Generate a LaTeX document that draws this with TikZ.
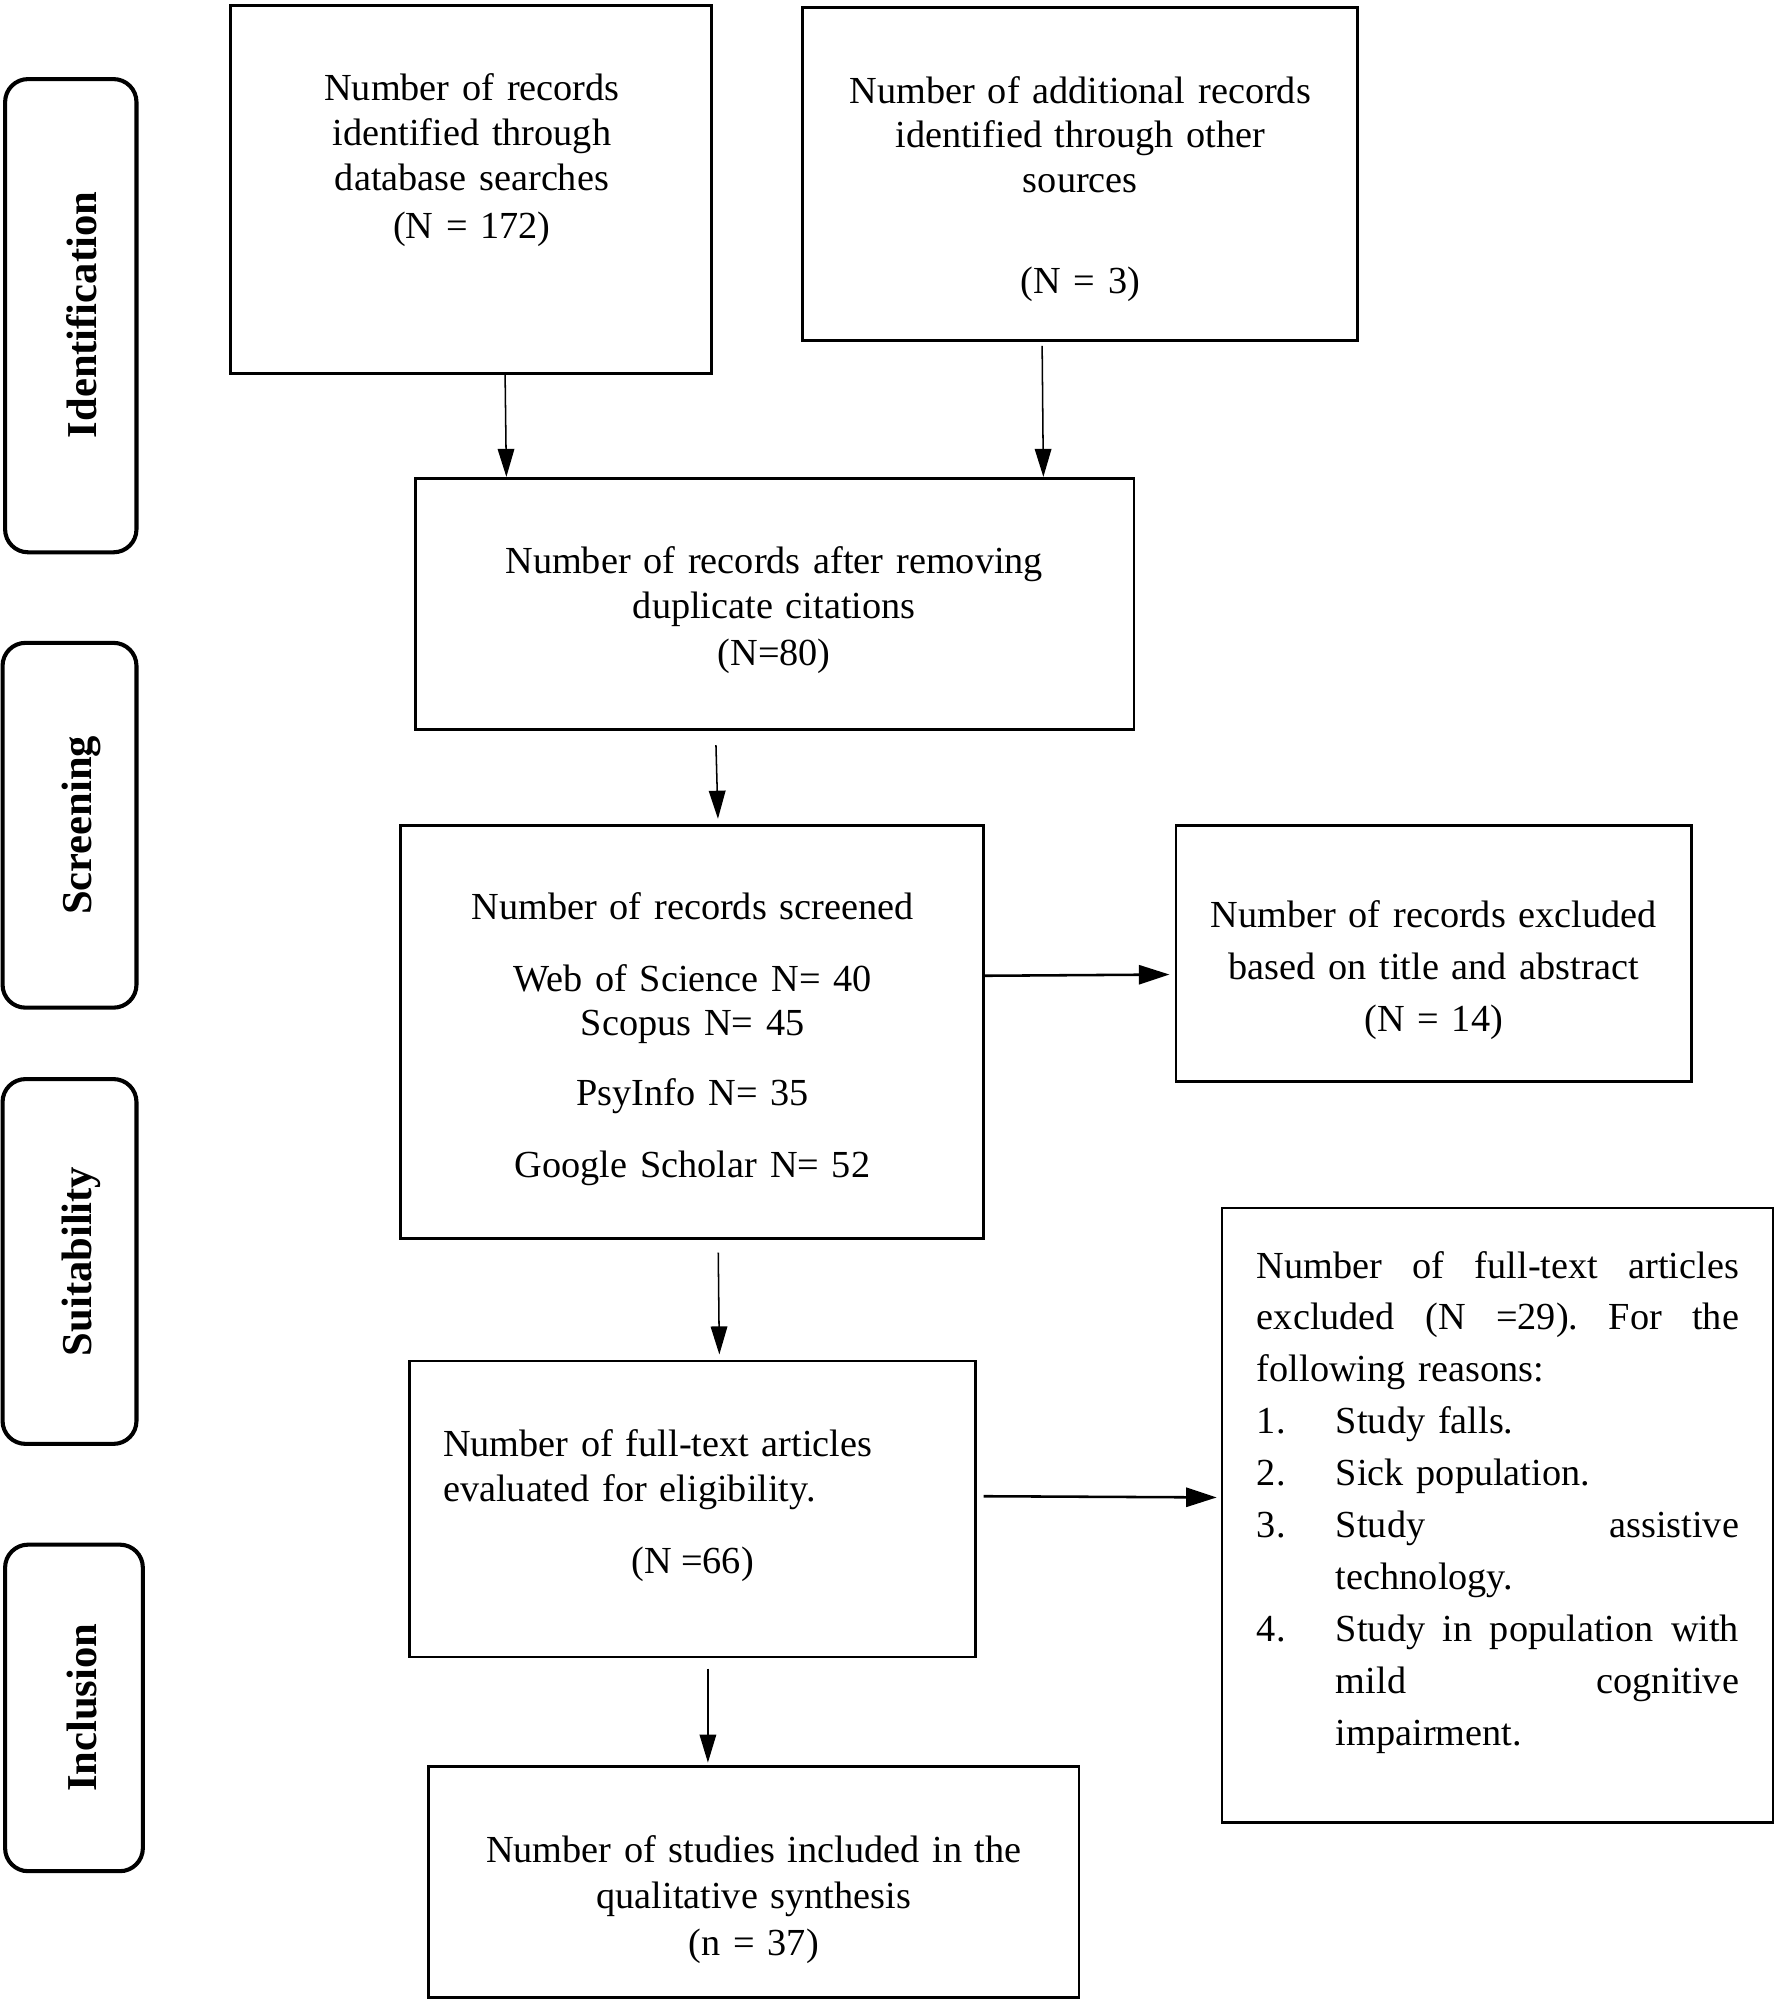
\documentclass[tikz,border=0pt]{standalone}
\usepackage{fontspec}
\setmainfont{Liberation Serif}
\usetikzlibrary{arrows.meta}
\begin{document}
\begin{tikzpicture}[x=0.5pt,y=-0.5pt,
  box/.style={draw, line width=1.1pt, inner sep=0pt},
  phase/.style={draw, line width=1.6pt, rounded corners=9pt, inner sep=0pt},
  lab/.style={font=\fontsize{16.7}{18}\selectfont\bfseries, inner sep=0pt, rotate=90},
  txt/.style={font=\fontsize{15}{17.5}\selectfont, inner sep=0pt, align=center},
  arr/.style={line width=0.6pt, -{Triangle[length=11pt,width=6.5pt]}},
  harr/.style={line width=1pt, -{Triangle[length=12pt,width=7.5pt]}}]
\useasboundingbox (0,0) rectangle (1392,1568);

% phase boxes
\node[phase, minimum width=51.5pt, minimum height=185.5pt] (P1) at (55.5,247.5) {};
\node[phase, minimum width=52.5pt, minimum height=143pt] (P2) at (54.5,647) {};
\node[phase, minimum width=52.5pt, minimum height=143pt] (P3) at (54.5,989) {};
\node[phase, minimum width=54pt, minimum height=128pt] (P4) at (58,1339) {};
\node[lab] (L1) at (64,247) {Identification};
\node[lab] (L2) at (64,647) {Screening};
\node[lab] (L3) at (64,989) {Suitability};
\node[lab] (L4) at (64,1339) {Inclusion};

% boxes
\node[box, minimum width=188.5pt, minimum height=144.5pt] (A) at (369.5,148.5) {};
\node[box, minimum width=217.5pt, minimum height=130.5pt] (B) at (846.5,136.5) {};
\node[box, minimum width=281.5pt, minimum height=98.5pt] (C) at (607.5,473.5) {};
\node[box, minimum width=228.5pt, minimum height=162pt] (D) at (542.5,809) {};
\node[box, minimum width=202pt, minimum height=100.5pt] (E) at (1124,747.5) {};
\node[box, minimum width=222pt, minimum height=116pt] (F) at (543,1183) {};
\node[box, minimum width=216pt, minimum height=241pt] (G) at (1174,1188) {};
\node[box, minimum width=255pt, minimum height=90.5pt] (H) at (591,1475.5) {};

% texts
\node[txt, text width=180pt, anchor=base] (tA) at (370,79)
  {Number of records\\identified through\\database searches\\[1.5pt](N = 172)};
\node[txt, text width=215pt, anchor=base] (tB) at (847,81)
  {Number of additional records\\identified through other\\sources\\[22pt](N = 3)};
\node[txt, text width=270pt, anchor=base] (tC) at (607,450)
  {Number of records after removing\\duplicate citations\\[1pt](N=80)};
\node[txt, text width=220pt, anchor=base] (tD) at (543,721)
  {Number of records screened\\[10.5pt]Web of Science N= 40\\Scopus N= 45\\[10pt]PsyInfo N= 35\\[10.5pt]Google Scholar N= 52};
\node[txt, text width=200pt, anchor=base, font=\fontsize{15}{20.5}\selectfont] (tE) at (1124,727)
  {Number of records excluded\\based on title and abstract\\(N = 14)};
\node[txt, text width=200pt, anchor=base west, align=left] (tF) at (347,1142)
  {Number of full-text articles\\evaluated for eligibility.};
\node[txt, anchor=base] (tF2) at (543,1234) {(N =66)};
\node[txt, text width=189pt, anchor=base west, align=left, font=\fontsize{15}{20.35}\selectfont] (tG) at (985,1002)
  {Number\hfill of\hfill full-text\hfill articles\\
   excluded\hfill (N\hfill =29).\hfill For\hfill the\\
   following reasons:\\
   \makebox[31pt][l]{1.}Study falls.\\
   \makebox[31pt][l]{2.}Sick population.\\
   \makebox[31pt][l]{3.}Study\hfill assistive\\
   \hspace*{31pt}technology.\\
   \makebox[31pt][l]{4.}Study\hfill in\hfill population\hfill with\\
   \hspace*{31pt}mild\hfill cognitive\\
   \hspace*{31pt}impairment.};
\node[txt, text width=250pt, anchor=base, font=\fontsize{15}{18.25}\selectfont] (tH) at (591,1460)
  {Number of studies included in the\\qualitative synthesis\\(n = 37)};

% connectors
\draw[arr] (A.south -| 396,0) -- (C.north -| 397,0);
\draw[arr, shorten <=1.5pt] (B.south -| 817,0) -- (C.north -| 818,0);
\draw[arr, shorten <=5.5pt, shorten >=2pt] (C.south -| 561,0) -- (D.north -| 563,0);
\draw[harr, shorten >=2pt] (D.east |- 0,765) -- (E.west |- 0,764);
\draw[arr, shorten <=5pt, shorten >=2pt] (D.south -| 563,0) -- (F.north -| 564,0);
\draw[harr, shorten <=2.5pt, shorten >=1.5pt] (F.east |- 0,1173) -- (G.west |- 0,1174);
\draw[arr, shorten <=4pt, shorten >=1pt] (F.south -| 555,0) -- (H.north -| 555,0);
\end{tikzpicture}
\end{document}
